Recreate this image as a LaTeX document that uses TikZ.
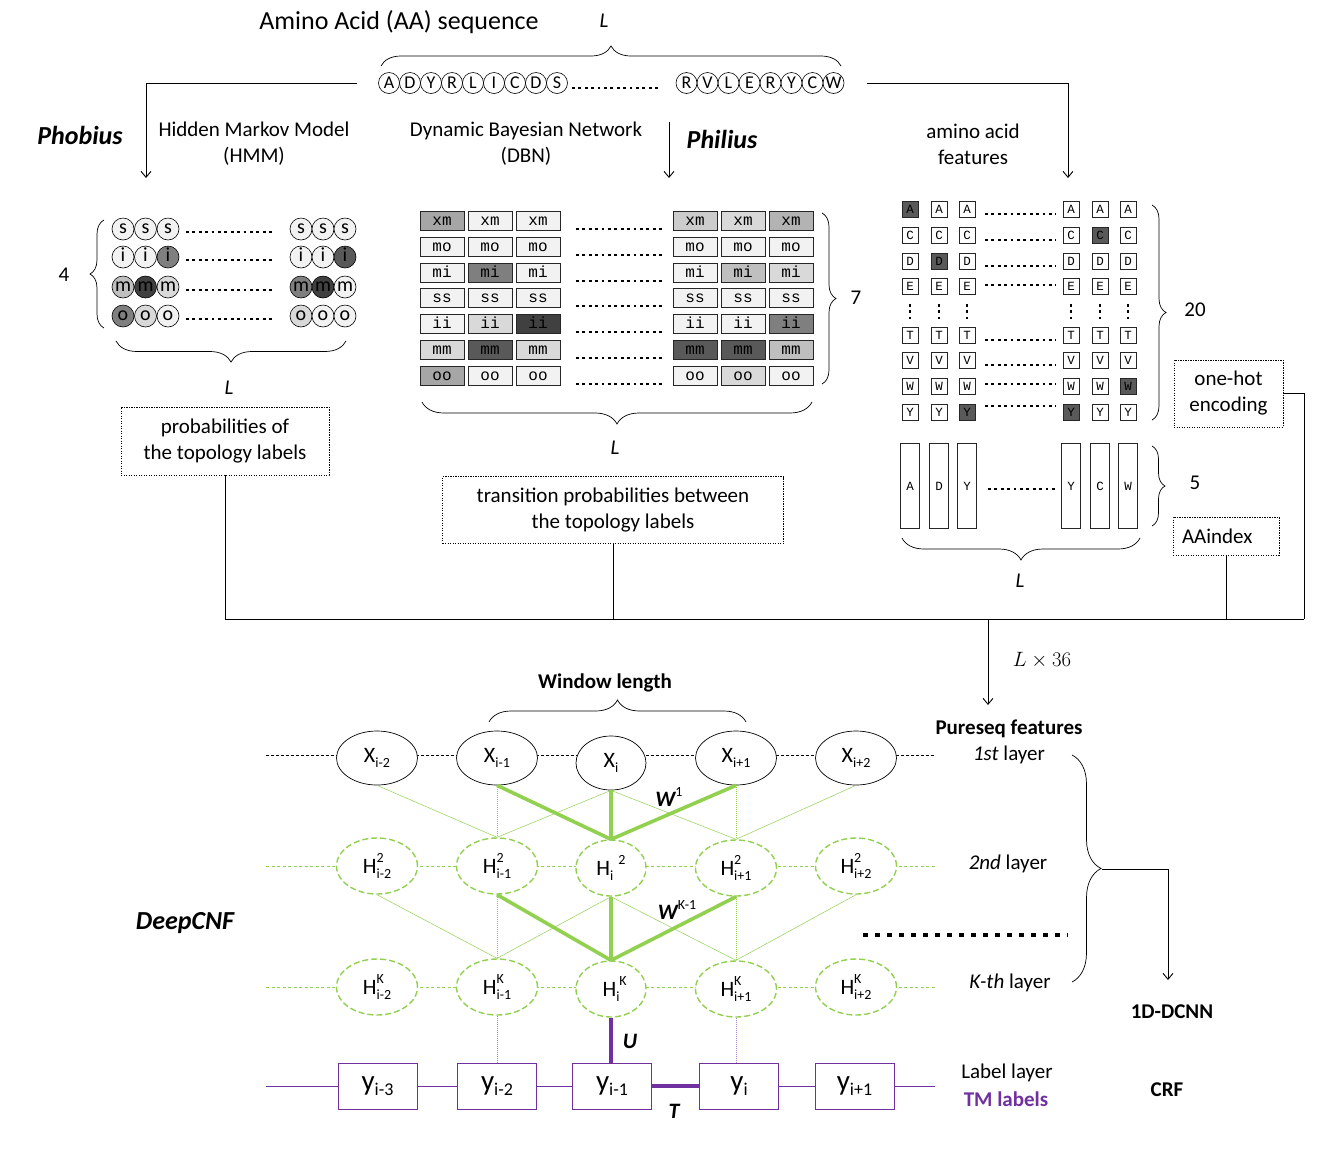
\documentclass[tikz,border=0pt]{standalone}
\usepackage{fontspec}
\setmainfont{Carlito}
\setmonofont{Liberation Mono}
\usetikzlibrary{arrows.meta,decorations.pathreplacing,shapes.geometric,calc,backgrounds}

\definecolor{leaf}{HTML}{92D050}
\definecolor{plum}{HTML}{7030A0}
\definecolor{cw}{HTML}{F2F2F2}
\definecolor{g15}{HTML}{D9D9D9}
\definecolor{g20}{HTML}{CCCCCC}
\definecolor{g25}{HTML}{BFBFBF}
\definecolor{g30}{HTML}{B3B3B3}
\definecolor{g35}{HTML}{A6A6A6}
\definecolor{g50}{HTML}{7F7F7F}
\definecolor{g65}{HTML}{595959}
\definecolor{g75}{HTML}{404040}

\newcommand\pxsize[1]{\fontsize{#1}{#1}\selectfont}
% letter with a subscript
\newcommand\subsc[2]{#1\raisebox{-0.45ex}{\pxsize{14}#2}}
\newcommand\bigsubsc[2]{#1\raisebox{-0.4ex}{\pxsize{18}#2}}
% letter with a stacked superscript and subscript
\newcommand\supsub[3]{#1\makebox[0pt][l]{\raisebox{1.0ex}{\pxsize{14}#2}}\raisebox{-0.45ex}{\pxsize{14}#3}}

\begin{document}
\begin{tikzpicture}[x=1pt,y=-1pt,
  txt/.style={inner sep=0pt, align=center, font=\fontsize{21}{26}\selectfont},
  boldtxt/.style={txt, font=\fontsize{21}{26}\selectfont\bfseries},
  tool/.style={inner sep=0pt, font=\pxsize{26}\bfseries\itshape},
  ell/.style={inner sep=0pt, font=\pxsize{21}\itshape},
  wire/.style={draw, line width=0.9pt},
  flow/.style={draw, line width=0.9pt, -{Straight Barb[length=6pt,width=10pt]}},
  curly/.style={draw, line width=0.7pt, decorate, decoration={brace, amplitude=#1}},
  notebox/.style={draw, line width=0.6pt, dash pattern=on 1.3pt off 1.2pt, inner sep=0pt,
    align=center, font=\fontsize{21}{26}\selectfont},
  seqball/.style={circle, draw, line width=0.6pt, minimum size=21pt, inner sep=0pt,
    text height=11pt, text depth=0pt, font=\pxsize{18}},
  ball/.style={circle, draw, line width=0.6pt, minimum size=22pt, inner sep=0pt,
    text height=8.5pt, text depth=0pt, font=\pxsize{20}},
  cell/.style={rectangle, draw=black!85, line width=0.6pt, minimum width=44pt, minimum height=19pt,
    inner sep=0pt, text height=8pt, text depth=0pt, font=\ttfamily\pxsize{16}},
  aacell/.style={rectangle, draw=black!85, line width=0.6pt, minimum size=16pt,
    inner sep=0pt, text height=8pt, text depth=0pt, font=\ttfamily\pxsize{12.5}},
  aacol/.style={rectangle, draw=black!85, line width=0.6pt, minimum width=19pt, minimum height=85pt,
    inner sep=0pt, fill=white, font=\ttfamily\pxsize{12.5}},
  dotrow/.style={line width=2.8pt, dash pattern=on 2.8pt off 3.6pt},
  bigdots/.style={line width=4.5pt, dash pattern=on 4.5pt off 7.5pt},
  xnode/.style={ellipse, draw, line width=0.7pt, fill=white, minimum width=81pt, minimum height=54pt,
    inner sep=0pt, font=\pxsize{22}},
  hnode/.style={ellipse, draw=leaf, line width=1.4pt, dash pattern=on 6pt off 3pt, fill=white,
    minimum width=81pt, minimum height=56pt, inner sep=0pt, font=\pxsize{22}},
  ynode/.style={rectangle, draw=plum, line width=0.8pt, fill=white, minimum width=79pt,
    minimum height=46pt, inner sep=0pt, font=\pxsize{29}},
  thinleaf/.style={draw=leaf, line width=0.5pt},
  thinleafdot/.style={draw=leaf, line width=0.7pt, dash pattern=on 1pt off 1pt},
  thickleaf/.style={draw=leaf, line width=3.6pt},
  wlabel/.style={inner sep=0pt, font=\pxsize{22}\bfseries\itshape}
]
\useasboundingbox (0,0) rectangle (1323,1171);

% ---------------- input sequence ----------------
\node[inner sep=0pt, font=\pxsize{26}] (title) at (399,22) {Amino Acid (AA) sequence};
\node[ell] (lseq) at (604,21) {L};
\foreach \c [count=\k] in {A,D,Y,R,L,I,C,D,S}
  \node[seqball] (sa\k) at ({378.5+10.5+21*(\k-1)},83) {\c};
\draw[dotrow] (572,88) -- (660,88);
\foreach \c [count=\k] in {R,V,L,E,R,Y,C,W}
  \node[seqball] (sb\k) at ({676+10.5+21*(\k-1)},83) {\c};
\draw[curly=20pt] (381,66) -- (841,66);

\coordinate (tapL) at (357,83);
\coordinate (hmmin) at (146,178);
\draw[flow] (tapL) -| (hmmin);
\coordinate (dbntop) at (669,122);
\coordinate (dbnin) at (669,178);
\draw[flow] (dbntop) -- (dbnin);
\coordinate (tapR) at (867,83);
\coordinate (aain) at (1068,178);
\draw[flow] (tapR) -| (aain);

\node[tool] (phob) at (80,135) {Phobius};
\node[tool] (phil) at (722,139) {Philius};
\node[txt] (hmm) at (254,144) {Hidden Markov Model\\(HMM)};
\node[txt] (dbn) at (526,144) {Dynamic Bayesian Network\\(DBN)};
\node[txt] (aaf) at (973,144) {amino acid\\features};

% ---------------- Phobius (HMM) states ----------------
\foreach \r/\y/\a/\b/\c/\d/\e/\f in {
  s/229/cw/cw/cw/cw/cw/cw,
  i/257/cw/cw/g50/cw/cw/g65,
  m/287/g25/g75/g15/g50/g75/cw,
  o/316/g50/g15/cw/g15/cw/cw}{
  \node[ball, fill=\a] (ph\r1) at (123,\y) {\r};
  \node[ball, fill=\b] (ph\r2) at (145.5,\y) {\r};
  \node[ball, fill=\c] (ph\r3) at (168,\y) {\r};
  \node[ball, fill=\d] (ph\r4) at (301,\y) {\r};
  \node[ball, fill=\e] (ph\r5) at (323,\y) {\r};
  \node[ball, fill=\f] (ph\r6) at (345,\y) {\r};
  \draw[dotrow] (186,{\y+3}) -- (273,{\y+3});
}
\draw[curly=14pt] (104,328) -- (104,220);
\node[txt] (four) at (64,275) {4};
\draw[curly=21pt] (346,341) -- (116,341);
\node[ell] (lhmm) at (229,388) {L};
\node[notebox, minimum width=208pt, minimum height=68pt] (prob) at (225,441)
  {probabilities of\\the topology labels};

% ---------------- Philius (DBN) states ----------------
\foreach \lab/\y/\a/\b/\c/\d/\e/\f in {
  xm/221/g35/cw/cw/g20/g15/g30,
  mo/247/cw/cw/cw/cw/cw/cw,
  mi/273/cw/g50/cw/cw/g25/g15,
  ss/298/cw/cw/cw/cw/cw/cw,
  ii/324/cw/g15/g75/cw/cw/g50,
  mm/350/g15/g65/g15/g65/g65/g25,
  oo/376/g35/cw/cw/cw/g15/cw}{
  \node[cell, fill=\a] (db\lab1) at (442,\y) {\lab};
  \node[cell, fill=\b] (db\lab2) at (490,\y) {\lab};
  \node[cell, fill=\c] (db\lab3) at (538,\y) {\lab};
  \node[cell, fill=\d] (db\lab4) at (695,\y) {\lab};
  \node[cell, fill=\e] (db\lab5) at (743,\y) {\lab};
  \node[cell, fill=\f] (db\lab6) at (791,\y) {\lab};
  \draw[dotrow] (576,{\y+8}) -- (663,{\y+8});
}
\draw[curly=14pt] (822,213) -- (822,384);
\node[txt] (seven) at (856,298) {7};
\draw[curly=22pt] (812,402) -- (422,402);
\node[ell] (ldbn) at (615,448) {L};
\node[notebox, minimum width=341pt, minimum height=67pt] (trans) at (613,510)
  {transition probabilities between\\the topology labels};

% ---------------- amino acid features ----------------
\foreach \r/\y/\o/\a/\b/\c/\d/\e/\f in {
  A/209/5/g65/white/white/white/white/white,
  C/235/5/white/white/white/white/g65/white,
  D/261/5/white/g65/white/white/white/white,
  E/286/-1/white/white/white/white/white/white,
  T/335/5/white/white/white/white/white/white,
  V/360/5/white/white/white/white/white/white,
  W/386/-2/white/white/white/white/white/g65,
  Y/412/-6/white/white/g65/g65/white/white}{
  \node[aacell, fill=\a] (aa\r1) at (910,\y) {\r};
  \node[aacell, fill=\b] (aa\r2) at (939,\y) {\r};
  \node[aacell, fill=\c] (aa\r3) at (967,\y) {\r};
  \node[aacell, fill=\d] (aa\r4) at (1071,\y) {\r};
  \node[aacell, fill=\e] (aa\r5) at (1100,\y) {\r};
  \node[aacell, fill=\f] (aa\r6) at (1128,\y) {\r};
  \draw[dotrow] (985,{\y+\o}) -- (1056,{\y+\o});
}
\foreach \x in {910,939,967,1071,1100,1128}
  \draw[dotrow] (\x,304) -- (\x,319);
\draw[curly=14pt] (1152,205) -- (1152,420);
\node[txt] (twenty) at (1195,310) {20};
\node[notebox, minimum width=109pt, minimum height=67pt] (onehot) at (1228.5,393.5)
  {one-hot\\encoding};

\foreach \c/\x [count=\k] in {A/910,D/939,Y/967,Y/1071,C/1100,W/1128}
  \node[aacol] (col\k) at (\x,486) {\c};
\draw[dotrow] (988,489) -- (1056,489);
\draw[curly=13pt] (1152,446) -- (1152,526);
\node[txt] (five) at (1195,483) {5};
\node[notebox, minimum width=106pt, minimum height=38pt, text width=88pt, align=left] (aaidx)
  at (1226,536) {AAindex};
\draw[curly=22pt] (1140,538) -- (902,538);
\node[ell] (laa) at (1020,581) {L};

% ---------------- feature collection ----------------
\coordinate (busR) at (1304,619);
\draw[wire] (prob.south) |- (busR);
\draw[wire] (onehot.east) -| (busR);
\draw[wire] (trans.south) -- (trans.south |- busR);
\draw[wire] (aaidx.south) -- (aaidx.south |- busR);
\coordinate (feedtop) at (988,619);
\coordinate (feedend) at (988,705);
\draw[flow] (feedtop) -- (feedend);
\node[inner sep=0pt, font=\pxsize{22}] (dim) at (1042,660) {$L\times 36$};

% ---------------- DeepCNF ----------------
\node[boldtxt] (win) at (605,683) {Window length};
\draw[curly=22pt] (489,722) -- (746,722);
\node[boldtxt] (pure) at (1009,729) {Pureseq features};
\node[txt] (lay1) at (1009,755) {\textit{1st} layer};
\node[txt] (lay2) at (1008,864) {\textit{2nd} layer};
\node[txt] (layk) at (1010,983) {\textit{K-th} layer};
\node[tool] (deep) at (185,923) {DeepCNF};

\node[xnode] (xa) at (377,758) {\subsc{X}{i-2}};
\node[xnode] (xb) at (497,758) {\subsc{X}{i-1}};
\node[xnode, minimum width=70pt] (xc) at (611,763) {\subsc{X}{i}};
\node[xnode] (xd) at (736,758) {\subsc{X}{i+1}};
\node[xnode] (xe) at (856,758) {\subsc{X}{i+2}};

\node[hnode] (ha) at (377,866) {\supsub{H}{2}{i-2}};
\node[hnode] (hb) at (497,866) {\supsub{H}{2}{i-1}};
\node[hnode, minimum width=70pt] (hc) at (611,868)
  {H\raisebox{-0.45ex}{\pxsize{14}i}\hspace{5pt}\raisebox{1.0ex}{\pxsize{14}2}};
\node[hnode] (hd) at (736,868) {\supsub{H}{2}{i+1}};
\node[hnode] (he) at (856,866) {\supsub{H}{2}{i+2}};

\node[hnode] (ka) at (377,987) {\supsub{H}{K}{i-2}};
\node[hnode] (kb) at (497,987) {\supsub{H}{K}{i-1}};
\node[hnode, minimum width=70pt] (kc) at (611,989) {\supsub{H}{\hspace{3pt}K}{i}};
\node[hnode] (kd) at (736,989) {\supsub{H}{K}{i+1}};
\node[hnode] (ke) at (856,987) {\supsub{H}{K}{i+2}};

\node[ynode] (ya) at (377.5,1086) {\bigsubsc{y}{i-3}};
\node[ynode] (yb) at (497,1086) {\bigsubsc{y}{i-2}};
\node[ynode] (yc) at (612,1086) {\bigsubsc{y}{i-1}};
\node[ynode] (yd) at (739,1086) {\bigsubsc{y}{i}};
\node[ynode] (ye) at (854.5,1086) {\bigsubsc{y}{i+1}};

% chains along each layer
\coordinate (xl) at (266,755);  \coordinate (xr) at (935,755);
\coordinate (hl) at (266,866);  \coordinate (hr) at (935,866);
\coordinate (kl) at (266,987);  \coordinate (kr) at (935,987);
\coordinate (yl) at (266,1086); \coordinate (yr) at (935,1086);
\begin{scope}[on background layer]
  \draw[line width=0.7pt, dash pattern=on 3pt off 2pt] (xl) -- (xr);
  \draw[leaf, line width=0.9pt, dash pattern=on 3pt off 2.5pt] (hl) -- (hr);
  \draw[leaf, line width=0.9pt, dash pattern=on 3pt off 2.5pt] (kl) -- (kr);
  \draw[plum, line width=0.8pt] (yl) -- (yr);
\end{scope}

% convolution windows
\foreach \a/\b in {xa/hb, xc/hb, xc/hd, xe/hd, ha/kb, hc/kb, hc/kd, he/kd}
  \draw[thinleaf] (\a.south) -- (\b.north);
\foreach \a/\b in {xb/hb, xd/hd, hb/kb, hd/kd}
  \draw[thinleafdot] (\a.south) -- (\b.north);
\foreach \a in {xb,xc,xd}
  \draw[thickleaf] (\a.south) -- (hc.north);
\foreach \a in {hb,hc,hd}
  \draw[thickleaf] (\a.south) -- (kc.north);
\node[wlabel] (w1) at (669,797) {W\raisebox{0.9ex}{\mdseries\upshape\pxsize{14}1}};
\node[wlabel] (wk) at (677,910) {W\raisebox{0.9ex}{\mdseries\upshape\pxsize{14}K-1}};
\draw[bigdots] (863,935) -- (1068,935);

% output layer
\draw[plum, line width=3.6pt] (kc.south) -- (kc.south |- yc.north);
\draw[plum, line width=4pt] (yc.east) -- (yd.west);
\draw[plum!60, line width=0.7pt, dash pattern=on 1pt off 1pt] (kb.south) -- (yb.north);
\draw[plum!60, line width=0.7pt, dash pattern=on 1pt off 1pt] (kd.south) -- (kd.south |- yd.north);
\node[wlabel] (ulab) at (630,1041) {U};
\node[wlabel] (tlab) at (674,1111) {T};
\node[txt] (lablay) at (1007,1073) {Label layer};
\node[boldtxt, text=plum] (tmlab) at (1006,1099) {TM labels};
\node[boldtxt] (crf) at (1167,1090) {CRF};

% 1D-DCNN grouping
\draw[curly=29pt] (1072,755) -- (1072,982);
\coordinate (grp) at (1102,869);
\coordinate (grpend) at (1168,980);
\draw[flow] (grp) -| (grpend);
\node[boldtxt] (dcnn) at (1172,1012) {1D-DCNN};
\end{tikzpicture}
\end{document}
